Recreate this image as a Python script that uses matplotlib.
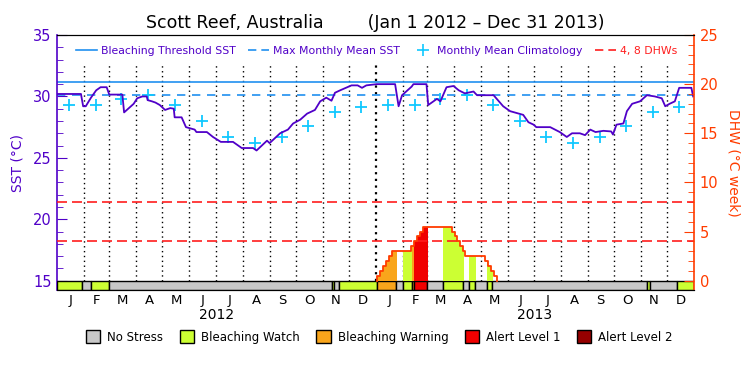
import numpy as np
import matplotlib.pyplot as plt
from matplotlib.patches import Rectangle, Patch
from matplotlib.lines import Line2D

# ---- data: x values are days since 2012-01-01 ----
sst_day = [0, 27.5, 30, 33, 39, 45, 50, 57, 60, 75, 77, 88, 92, 98, 103, 104, 109, 113,
           118, 124, 130, 134, 135, 143, 148, 158, 160, 172, 179, 188, 202, 212, 225, 229,
           232, 241, 244, 256, 265, 271, 279, 287, 296, 302, 309, 315, 319, 325, 338, 345,
           350, 355, 367, 388, 392, 396, 407, 409, 424, 426, 432, 436, 440, 447, 455, 461,
           468, 478, 482, 501, 512, 520, 535, 541, 547, 550, 566, 577, 585, 591, 600, 606,
           612, 618, 627, 636, 638, 642, 650, 654, 660, 669, 677, 686, 694, 698, 703, 709,
           714, 728, 730]
sst_val = [30.2, 30.2, 29.2, 29.2, 29.9, 30.5, 30.75, 30.75, 30.15, 30.15, 28.7, 29.4, 29.85,
           30.0, 30.0, 29.7, 29.6, 29.5, 29.3, 28.9, 29.05, 29.0, 28.3, 28.3, 27.5, 27.3, 27.1,
           27.1, 26.7, 26.3, 26.3, 25.8, 25.8, 25.6, 25.8, 26.4, 26.2, 27.0, 27.3, 27.8, 28.1,
           28.6, 28.9, 29.6, 29.9, 29.65, 30.3, 30.5, 30.9, 30.9, 30.7, 30.9, 31.0, 31.0, 29.2,
           30.1, 30.8, 31.0, 31.0, 29.3, 29.6, 29.8, 29.6, 30.75, 30.85, 30.5, 30.25, 30.4,
           30.1, 30.1, 29.2, 28.8, 28.5, 27.9, 27.7, 27.5, 27.5, 27.1, 26.7, 27.0, 27.0, 26.85,
           27.3, 27.1, 27.2, 27.15, 26.9, 27.7, 27.8, 28.8, 29.4, 29.6, 30.1, 30.0, 29.85, 29.2,
           29.4, 29.6, 30.7, 30.7, 30.0]

clim_val = [29.3, 29.3, 29.8, 30.1, 29.3, 28.0, 26.7, 26.2, 26.7, 27.6, 28.7, 29.1]
mmm = 30.14
threshold = 31.14

dhw_day = [367.2, 367.2, 370.7, 374.2, 377.7, 381.2, 384.7, 406.6, 410.0, 413.5, 416.9,
           420.4, 453.3, 456.5, 459.5, 462.5, 465.5, 468.5, 491.2, 494.6, 498.1, 501.5, 504.9]
dhw_val = [0, 0.5, 1.0, 1.5, 2.0, 2.5, 3.0, 3.5, 4.0, 4.5, 5.0, 5.5, 5.0, 4.5, 4.0, 3.5,
           3.0, 2.5, 2.0, 1.5, 1.0, 0.5, 0]

status_edges = [0, 29, 38.7, 60, 315.6, 318.2, 323.3, 367.6, 389, 396.7, 407, 410, 424.3,
                442.6, 466.3, 473.1, 479.7, 493.8, 498.9, 676.7, 680.9, 711.8, 731]
status_level = [1, 0, 1, 0, 1, 0, 1, 2, 0, 1, 2, 3, 0, 1, 0, 1, 0, 1, 0, 1, 0, 1]
status_names = ['No Stress', 'Bleaching Watch', 'Bleaching Warning', 'Alert Level 1', 'Alert Level 2']
status_colors = ['#c8c8c8', '#ccff33', '#f9a51b', '#f00000', '#960000']

month_labels = list('JFMAMJJASOND') * 2
years = ['2012', '2013']

# ---- derived positions from the calendar ----
t0 = np.datetime64('2012-01-01')
months = np.arange('2012-01', '2014-02', dtype='datetime64[M]').astype('datetime64[D]')
mstart = (months - t0).astype(int)
month_mid = (mstart[:-1] + mstart[1:]) / 2
clim_day = mstart[:-1] + 14
year_mid = [(mstart[0] + mstart[12]) / 2, (mstart[12] + mstart[24]) / 2]
n_days = mstart[-1]

purple = '#5000c8'
orange = '#ff3c00'
blue = '#2090f0'
cyan = '#10c8ff'
red = '#ff1e1e'

fig = plt.figure(figsize=(7.5, 3.75), dpi=100)
ax = fig.add_axes([57 / 750, 1 - 290.3 / 375, 637 / 750, 255.3 / 375])
ax.set_xlim(0, n_days)
ybot = 14.22
ax.set_ylim(ybot, 35)

# stress bar
starts = np.array(status_edges[:-1])
widths = np.diff(status_edges)
ax.bar(starts, 15 - ybot, width=widths, bottom=ybot, align='edge',
       color=[status_colors[l] for l in status_level], edgecolor='black', lw=1, zorder=3)

# month dotted lines (the year boundary a bit heavier)
for i, m in enumerate(mstart[1:-1], start=1):
    heavy = (i == 12)
    ax.plot([m, m], [15, 32.7], color='black', lw=1.6 if heavy else 1,
            ls=(0, (1, 2)) if heavy else (0, (1, 2.5)), zorder=1)

ax.axhline(threshold, color=blue, lw=1.2, zorder=2)
ax.axhline(mmm, color=blue, lw=1.2, ls=(0, (5, 4)), zorder=2)
ax.plot(clim_day, clim_val * 2, ls='none', marker='+', ms=9, mew=1.3, color=cyan, zorder=3)
ax.plot(sst_day, sst_val, color=purple, lw=1.3, zorder=4)

# DHW on the right axis
ax2 = ax.twinx()
ax2.set_ylim((ybot - 15) * 1.25, 25)
ax2.axhline(4, color=red, lw=1.2, ls=(0, (6, 3)))
ax2.axhline(8, color=red, lw=1.2, ls=(0, (6, 3)))
for s, e, lev in zip(status_edges[:-1], status_edges[1:], status_level):
    if lev == 0:
        continue
    poly = ax2.fill_between(dhw_day, dhw_val, 0, step='post', color=status_colors[lev], lw=0)
    poly.set_clip_path(Rectangle((s, -1), e - s, 30, transform=ax2.transData))
ax2.step(dhw_day, dhw_val, where='post', color=orange, lw=1.3)

# axes styling
ax.spines['left'].set_color(purple)
ax.spines['right'].set_visible(False)
ax2.spines['left'].set_visible(False)
ax2.spines['right'].set_color(orange)
ax.spines['left'].set_linewidth(1.2)
ax2.spines['right'].set_linewidth(1.2)

ax.set_yticks(range(15, 36, 5))
ax.set_yticks(range(15, 36), minor=True)
ax.tick_params(axis='y', which='both', direction='in', colors=purple, labelsize=10.5, pad=4)
ax.tick_params(axis='y', which='major', length=7)
ax.tick_params(axis='y', which='minor', length=4)
ax2.set_yticks(range(0, 26, 5))
ax2.set_yticks(range(0, 26), minor=True)
ax2.tick_params(axis='y', which='both', direction='in', colors=orange, labelsize=10.5, pad=4)
ax2.tick_params(axis='y', which='major', length=7)
ax2.tick_params(axis='y', which='minor', length=4)

ax.set_xticks(month_mid)
ax.set_xticklabels(month_labels)
ax.tick_params(axis='x', which='both', length=0, pad=3, labelsize=9.5)
for ym, yr in zip(year_mid, years):
    ax.text(ym, -0.097, yr, transform=ax.get_xaxis_transform(), ha='center', va='center',
            fontsize=10)

ax.set_ylabel('SST (°C)', color=purple, fontsize=10, labelpad=6)
ax2.set_ylabel('DHW (°C week)', color=orange, fontsize=10, rotation=270, labelpad=16)

fig.text(0.5, 0.939, 'Scott Reef, Australia        (Jan 1 2012 \u2013 Dec 31 2013)',
         ha='center', va='center', fontsize=12.5)

top_handles = [Line2D([], [], color=blue, lw=1.2),
               Line2D([], [], color=blue, lw=1.2, ls=(0, (5, 3))),
               Line2D([], [], ls='none', marker='+', ms=8, mew=1.2, color=cyan),
               Line2D([], [], color=red, lw=1.2, ls=(0, (5, 3)))]
leg = ax.legend(top_handles, ['Bleaching Threshold SST', 'Max Monthly Mean SST',
                              'Monthly Mean Climatology', '4, 8 DHWs'],
                labelcolor=[purple, purple, purple, red], loc='center',
                bbox_to_anchor=(0.502, 0.937), ncol=4, frameon=False, fontsize=7.8,
                handlelength=1.9, handletextpad=0.4, columnspacing=1.15)
leg.set_zorder(5)

fig.legend([Patch(facecolor=c, edgecolor='black', lw=1) for c in status_colors], status_names,
           loc='center', bbox_to_anchor=(0.506, 0.1013), ncol=5, frameon=False, fontsize=8.5,
           handlelength=1.2, handleheight=1.2, columnspacing=1.4, handletextpad=0.6)

fig.savefig('out.png', dpi=100)
